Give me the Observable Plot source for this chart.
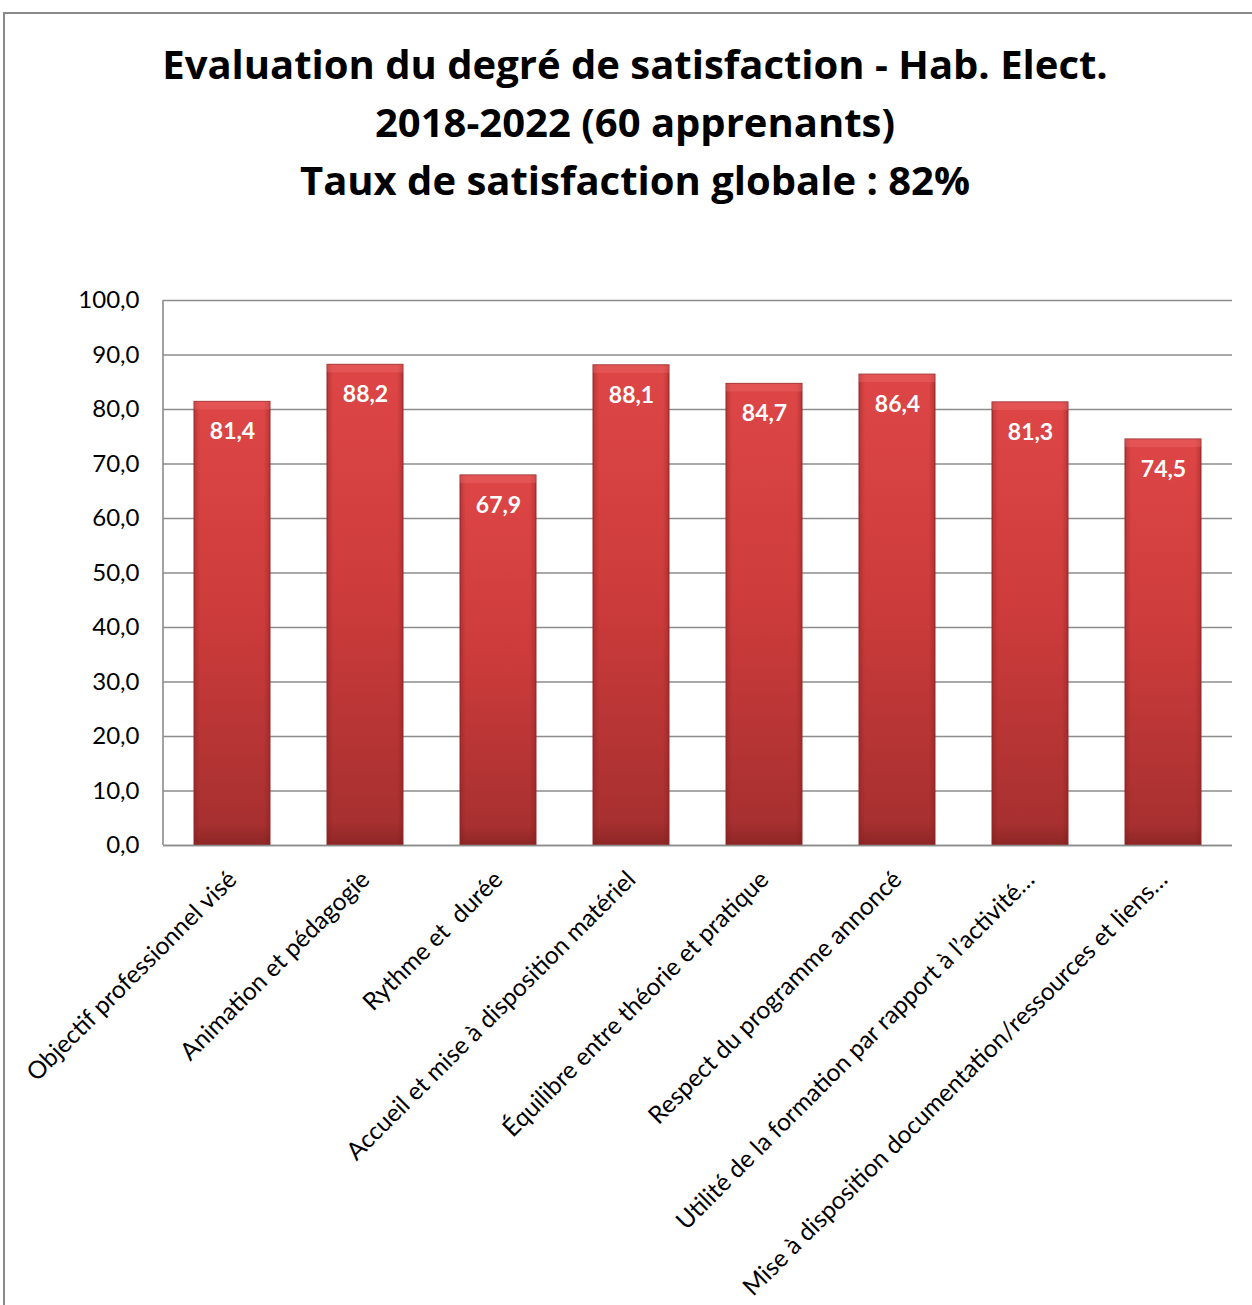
<!DOCTYPE html>
<html><head><meta charset="utf-8">
<script src="https://cdn.jsdelivr.net/npm/d3@7"></script>
<script src="https://cdn.jsdelivr.net/npm/@observablehq/plot@0.6"></script>
<style>
body{margin:0;background:#fff;font-family:Lato,"Open Sans",sans-serif;}
#wrap{position:relative;width:1252px;height:1305px;overflow:hidden;}
#frame{position:absolute;left:3px;top:12px;width:1260px;height:1310px;border-left:2px solid #8a8a8a;border-top:2px solid #8a8a8a;}
#title{position:absolute;left:0;top:35px;width:1270px;text-align:center;font-weight:bold;font-size:40px;line-height:58px;color:#000;font-family:"Open Sans",Lato,sans-serif;}
#chart{position:absolute;left:0;top:0;}
</style></head><body>
<div id="wrap"><div id="frame"></div>
<div id="title">Evaluation du degré de satisfaction - Hab. Elect.<br>2018-2022 (60 apprenants)<br>Taux de satisfaction globale : 82%</div>
<div id="chart"></div></div>
<script>
const categories = ["Objectif professionnel visé","Animation et pédagogie","Rythme et  durée","Accueil et mise à disposition matériel","Équilibre entre théorie et pratique","Respect du programme annoncé","Utilité de la formation par rapport à l’activité…","Mise à disposition documentation/ressources et liens…"];
const values = [81.4,88.2,67.9,88.1,84.7,86.4,81.3,74.5];
const yTicks = [0,10,20,30,40,50,60,70,80,90,100];
const data = categories.map((c,i)=>({cat:c,val:values[i]}));
const fmt = v => v.toFixed(1).replace(".", ",");
const chart = Plot.plot({
  width:1252, height:1305,
  marginTop:300, marginBottom:460, marginLeft:163, marginRight:20,
  style:{fontFamily:"Lato, 'Open Sans', sans-serif", background:"transparent"},
  x:{domain:categories, paddingInner:0.43, paddingOuter:0.215, label:null},
  y:{domain:[0,100], label:null},
  marks:[
    Plot.gridY(yTicks,{stroke:"#8c8c8c", strokeOpacity:1, strokeWidth:1.6}),
    Plot.axisY({ticks:yTicks, tickSize:0, tickPadding:24, tickFormat:fmt, fontSize:24, fill:"#000", label:null}),
    Plot.axisX({tickSize:0, tickPadding:30, tickRotate:-45, fontSize:24.5, fill:"#000", label:null, textAnchor:"end"}),
    Plot.barY(data,{x:"cat", y:"val", fill:"url(#barGrad)", stroke:"#9a2a2a", strokeWidth:1}),
    Plot.barY(data,{x:"cat", y:"val", fill:"url(#sideGrad)"}),
    Plot.rect(data,{x:"cat", y1:"val", y2:"val", fill:"#f07070", fillOpacity:0.35, insetBottom:-8}),
    Plot.text(data,{x:"cat", y:"val", text:d=>fmt(d.val), dy:30, fill:"#fff", fontWeight:"bold", fontSize:23}),
    Plot.ruleY([0],{stroke:"#8c8c8c", strokeWidth:1.6})
  ]
});
const defs = document.createElementNS("http://www.w3.org/2000/svg","defs");
defs.innerHTML = `<linearGradient id="barGrad" x1="0" y1="0" x2="0" y2="1">
<stop offset="0" stop-color="#de4646"/><stop offset="0.5" stop-color="#cc3b3b"/><stop offset="0.95" stop-color="#a83030"/><stop offset="1" stop-color="#8e2626"/></linearGradient>
<linearGradient id="sideGrad" x1="0" y1="0" x2="1" y2="0">
<stop offset="0" stop-color="#7a1a1a" stop-opacity="0.35"/><stop offset="0.08" stop-color="#7a1a1a" stop-opacity="0"/><stop offset="0.92" stop-color="#7a1a1a" stop-opacity="0"/><stop offset="1" stop-color="#7a1a1a" stop-opacity="0.35"/></linearGradient>`;
chart.insertBefore(defs, chart.firstChild);
// left axis line drawn through the y scale
const ys = chart.scale("y");
const x0 = 163;
d3.select(chart).append("line")
  .attr("x1", x0).attr("x2", x0)
  .attr("y1", ys.apply(0)).attr("y2", ys.apply(100))
  .attr("stroke", "#8c8c8c").attr("stroke-width", 1.6);
document.getElementById("chart").appendChild(chart);
</script></body></html>
